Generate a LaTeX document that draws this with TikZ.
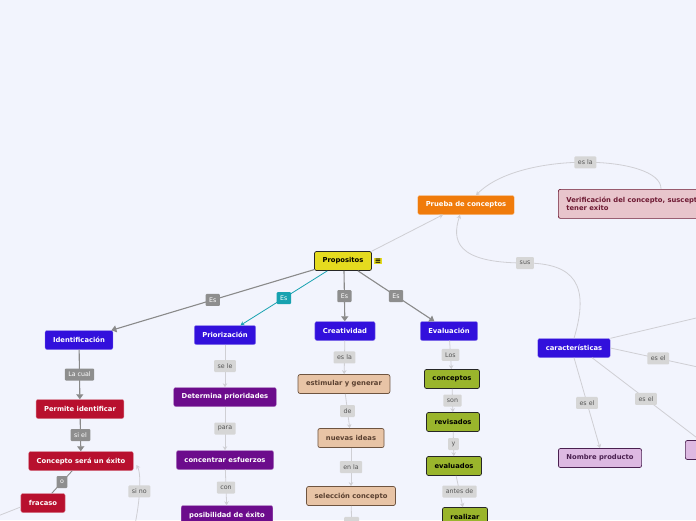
\documentclass[tikz,border=0pt]{standalone}
\usepackage{fontspec}
\setmainfont{DejaVu Sans}
\usepackage{tikz}
\usetikzlibrary{arrows.meta,positioning,calc}
\definecolor{canvasbg}{HTML}{F2F4FD}
\definecolor{mmblue}{HTML}{3210DC}
\definecolor{mmcrimson}{HTML}{B8102E}
\definecolor{mmpurple}{HTML}{6C0C8C}
\definecolor{mmtan}{HTML}{E8C4A6}
\definecolor{mmtanline}{HTML}{6E5440}
\definecolor{mmtantext}{HTML}{5A4030}
\definecolor{mmolive}{HTML}{9AB52C}
\definecolor{mmyellow}{HTML}{E5DB1F}
\definecolor{mmorange}{HTML}{F07B0B}
\definecolor{mmpink}{HTML}{E8C5CC}
\definecolor{mmpinkline}{HTML}{6E1A33}
\definecolor{mmlilac}{HTML}{DDB9E2}
\definecolor{mmlilacline}{HTML}{4A2050}
\definecolor{mmteal}{HTML}{17A2B0}
\definecolor{tagdark}{HTML}{8E8E8E}
\definecolor{taglight}{HTML}{D6D6D6}
\definecolor{tagtext}{HTML}{555555}
\definecolor{linedark}{HTML}{8A8A8A}
\definecolor{linelight}{HTML}{CFCFD4}

\begin{document}
\begin{tikzpicture}[x=1pt,y=-1pt,font=\fontsize{6.5}{7.8}\selectfont,
  box/.style={rounded corners=2pt,minimum height=19pt,inner xsep=8pt,inner ysep=2pt,font=\fontsize{6.8}{8}\selectfont\bfseries},
  bluebox/.style={box,fill=mmblue,draw=mmblue!55!white,text=white},
  redbox/.style={box,fill=mmcrimson,draw=mmcrimson!55!white,text=white},
  purplebox/.style={box,fill=mmpurple,draw=mmpurple!55!white,text=white},
  tanbox/.style={box,fill=mmtan,draw=mmtanline,text=mmtantext,line width=0.7pt},
  olivebox/.style={box,fill=mmolive,draw=black!85,text=black,line width=0.7pt},
  lilacbox/.style={box,fill=mmlilac,draw=mmlilacline,text=mmlilacline,line width=0.7pt},
  tag/.style={rounded corners=1pt,inner xsep=3.5pt,inner ysep=2pt,minimum height=12pt,font=\fontsize{6.3}{7}\selectfont},
  darktag/.style={tag,fill=tagdark,text=white},
  lighttag/.style={tag,fill=taglight,text=tagtext},
  heavy/.style={draw=linedark,line width=1.1pt,-{Triangle[length=5pt,width=7pt]}},
  light/.style={draw=linelight,line width=0.8pt,-{Stealth[length=4pt,width=4.5pt]}}]
\fill[canvasbg] (0,0) rectangle (696,520);
\useasboundingbox (0,0) rectangle (696,520);
\clip (0,0) rectangle (696,520);

% main nodes
\node[box,fill=mmyellow,draw=black!85,text=black,line width=0.7pt,minimum width=57pt] (prop) at (343,261) {Propositos};
\node[fill=mmyellow,text=black,inner sep=0.8pt,font=\fontsize{7.5}{7.5}\selectfont\bfseries] (menuicon) at (378,261) {≡};
\node[box,fill=mmorange,draw=mmorange!50!white,text=white,minimum width=96pt] (prueba) at (466,205) {Prueba de conceptos};
\node[box,fill=mmpink,draw=mmpinkline,text=mmpinkline,line width=0.7pt,anchor=north west,align=left,minimum height=29pt] (verif) at (558,189) {Verificación del concepto, susceptible de\\tener exito};
\node[bluebox] (car) at (574,348) {características};
\node[lilacbox] (nombre) at (600,458) {Nombre producto};
\node[lilacbox,anchor=west,minimum width=60pt,align=left,inner xsep=5pt] (fnode) at (685,450) {F};

\node[bluebox] (ident) at (79,340) {Identificación};
\node[bluebox] (priori) at (225,335) {Priorización};
\node[bluebox] (creat) at (345,331) {Creatividad};
\node[bluebox] (eval) at (449,331) {Evaluación};

\node[redbox] (perm) at (80,409) {Permite identificar};
\node[redbox] (konz) at (81,461) {Concepto será un éxito};
\node[redbox] (fracaso) at (43,503) {fracaso};

\node[purplebox] (det) at (225,397) {Determina prioridades};
\node[purplebox] (concen) at (225,460) {concentrar esfuerzos};
\node[purplebox] (posib) at (227,515) {posibilidad de éxito};

\node[tanbox] (estim) at (344,384) {estimular y generar};
\node[tanbox] (ideas) at (351,438) {nuevas ideas};
\node[tanbox] (selec) at (351,496) {selección concepto};

\node[olivebox] (conc) at (452,379) {conceptos};
\node[olivebox] (revis) at (453,422) {revisados};
\node[olivebox] (evald) at (454,466) {evaluados};
\node[olivebox] (realiz) at (465,517) {realizar};

% ends off the canvas
\coordinate (offsino) at (130,545);
\coordinate (offfrac) at (-20,523);
\coordinate (offsel) at (352,540);
\coordinate (offup) at (730,310);
\coordinate (offright) at (730,374);

% connectors
\draw[heavy] (prop) -- node[darktag]{Es} (ident);
\draw[draw=mmteal,line width=0.8pt,-{Stealth[length=4pt,width=4.5pt]}] (prop) -- node[tag,fill=mmteal,text=white]{Es} (priori);
\draw[heavy] (prop.south) ++(1,0) -- node[darktag]{Es} (creat);
\draw[heavy] (prop) -- node[darktag]{Es} (eval);
\draw[light] (prop.north east) -- ([xshift=-23pt]prueba.south);

\draw[light] ([xshift=103pt]verif.north west) .. controls (662,155) and (520,150) .. node[lighttag]{es la} ([xshift=10pt]prueba.north);
\draw[light] (car.north) .. controls (590,285) and (575,263) .. (525,263) node[lighttag]{sus} .. controls (455,263) and (452,240) .. ([xshift=-6pt]prueba.south);

\draw[light,-] (car.north east) -- (offup);
\draw[light,-] (car.east) -- node[lighttag,pos=0.4]{es el} (offright);
\draw[light,-] ([xshift=18pt]car.south) -- node[lighttag]{es el} ([xshift=15pt]fnode.north west);
\draw[light] (car.south) -- node[lighttag]{es el} (nombre.north);

\draw[heavy] (ident) -- node[darktag]{La cual} (perm);
\draw[heavy] (perm) -- node[darktag]{si el} (konz);
\draw[heavy,-,line width=0.9pt] (konz) -- node[darktag]{o} (fracaso);
\draw[light,-] ([yshift=-4pt]fracaso.west) -- (offfrac);
\draw[light] (offsino) .. controls (140,510) and (142,475) .. node[lighttag,pos=0.55]{si no} ([xshift=3pt,yshift=-4pt]konz.east);

\draw[light] (priori) -- node[lighttag]{se le} (det);
\draw[light] (det) -- node[lighttag]{para} (concen);
\draw[light] (concen) -- node[lighttag]{con} (posib);

\draw[light] (creat) -- node[lighttag]{es la} (estim);
\draw[light] (estim) -- node[lighttag]{de} (ideas);
\draw[light] (ideas) -- node[lighttag]{en la} (selec);
\draw[light] (selec) -- node[lighttag]{\phantom{en}} (offsel);

\draw[light] (eval) -- node[lighttag]{Los} (conc);
\draw[light] (conc) -- node[lighttag]{son} (revis);
\draw[light] (revis) -- node[lighttag]{y} (evald);
\draw[light] (evald) -- node[lighttag]{antes de} (realiz);
\end{tikzpicture}
\end{document}
